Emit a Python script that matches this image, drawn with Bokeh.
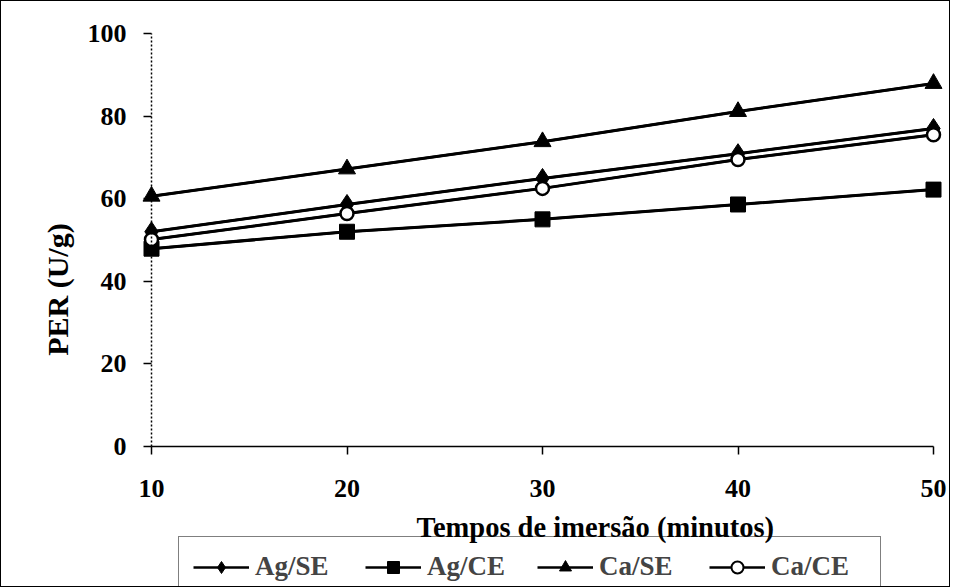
import math
from bokeh.plotting import figure
from bokeh.models import Range1d, Legend, LegendItem, Label, FixedTicker
from bokeh.embed import file_html
from bokeh.resources import INLINE

tempos = [10, 20, 30, 40, 50]
ag_se = [52.0, 58.6, 64.9, 70.9, 77.0]
ag_ce = [47.9, 52.0, 55.0, 58.6, 62.2]
ca_se = [60.6, 67.2, 73.8, 81.1, 87.9]
ca_ce = [50.1, 56.4, 62.5, 69.5, 75.5]
x_ticks = [10, 20, 30, 40, 50]
y_ticks = [0, 20, 40, 60, 80, 100]

FONT = "Liberation Serif"

# Frame covers the whole canvas; axes are pinned at fixed data locations.
W, H = 950, 587
px_x = 782 / 40.0   # pixels per minute
px_y = 413 / 100.0  # pixels per U/g
x0 = 10 - 150 / px_x
x1 = 50 + (W - 932) / px_x
y0 = 0 - (H - 445) / px_y
y1 = 100 + 32 / px_y

p = figure(width=W, height=H, output_backend="svg", toolbar_location=None,
           x_range=Range1d(x0, x1), y_range=Range1d(y0, y1),
           min_border=0)
p.styles = {"border": "1.5px solid black", "box-sizing": "border-box"}
p.outline_line_color = None
p.xgrid.grid_line_color = None
p.ygrid.grid_line_color = None

for ax in (p.xaxis[0], p.yaxis[0]):
    ax.major_label_text_font = FONT
    ax.major_label_text_font_style = "bold"
    ax.major_label_text_font_size = "26px"
    ax.major_label_text_color = "black"
    ax.axis_line_color = "black"
    ax.axis_line_width = 1.5
    ax.major_tick_line_color = "black"
    ax.major_tick_line_width = 1.5
    ax.major_tick_in = 0
    ax.major_tick_out = 8
    ax.minor_tick_line_color = None

p.xaxis.ticker = FixedTicker(ticks=x_ticks)
p.yaxis.ticker = FixedTicker(ticks=y_ticks)
p.xaxis.fixed_location = 0
p.yaxis.fixed_location = 10
p.xaxis.bounds = (10, 50)
p.yaxis.bounds = (0, 100)
p.xaxis.major_label_standoff = 25
p.yaxis.major_label_standoff = 17
p.yaxis.axis_line_dash = "2 2"

series = [
    ("Ag/SE", ag_se, "diamond", 20, 14, "black"),
    ("Ag/CE", ag_ce, "square", 15, 11, "black"),
    ("Ca/SE", ca_se, "triangle", 17, 12, "black"),
    ("Ca/CE", ca_ce, "circle", 13, 9, "white"),
]

items = []
for name, ys, marker, size, lsize, fill in series:
    # legend-key glyphs: smaller versions, drawn first so the main marks cover them
    leg_line = p.line(tempos, ys, line_color="black", line_width=2.5)
    leg_mark = p.scatter(tempos, ys, marker=marker, size=lsize, fill_color=fill,
                         line_color="black", line_width=2 if fill == "white" else 1)
    items.append(LegendItem(label=name, renderers=[leg_line, leg_mark]))

for name, ys, marker, size, lsize, fill in series:
    p.line(tempos, ys, line_color="black", line_width=3)
for name, ys, marker, size, lsize, fill in series:
    p.scatter(tempos, ys, marker=marker, size=size, fill_color=fill,
              line_color="black", line_width=2.5 if fill == "white" else 1)

legend = Legend(items=items, orientation="horizontal", location=(177, -9))
legend.label_text_font = FONT
legend.label_text_font_style = "bold"
legend.label_text_font_size = "27px"
legend.glyph_width = 56
legend.glyph_height = 30
legend.label_standoff = 6
legend.label_width = 95
legend.spacing = 15
legend.padding = 14
legend.margin = 0
legend.border_line_color = "black"
legend.border_line_width = 1.5
legend.background_fill_alpha = 0
p.add_layout(legend, "center")

xt = Label(x=32.7, y=-19.5, text="Tempos de imersão (minutos)", text_font=FONT,
           text_font_style="bold", text_font_size="28.5px", text_align="center",
           text_baseline="alphabetic", text_color="black")
yt = Label(x=5.2, y=38.0, text="PER (U/g)", angle=math.pi / 2, text_font=FONT,
           text_font_style="bold", text_font_size="30px", text_align="center",
           text_baseline="alphabetic", text_color="black")
p.add_layout(xt)
p.add_layout(yt)

open("out.html", "w").write(file_html(p, INLINE))
